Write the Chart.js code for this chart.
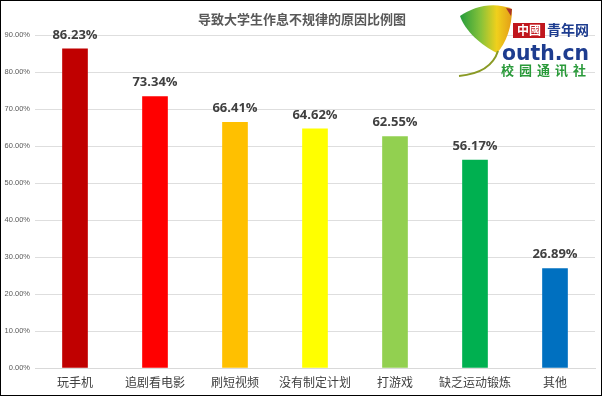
<!DOCTYPE html>
<html lang="zh">
<head>
  <meta charset="UTF-8" />
  <title>导致大学生作息不规律的原因比例图</title>
  <script src="https://cdn.jsdelivr.net/npm/chart.js"></script>
  <style>
    body { margin: 0; background: #fff; }
    .frame {
      width: 602px;
      height: 396px;
      box-sizing: border-box;
      border: 1px solid #000;
      position: relative;
    }
    canvas { display: block; }
  </style>
</head>
<body>
  <div class="frame">
    <canvas id="chart" width="600" height="394"></canvas>
  </div>

<script>
  const chartTitle = "导致大学生作息不规律的原因比例图";
  const categories = ["玩手机", "追剧看电影", "刷短视频", "没有制定计划", "打游戏", "缺乏运动锻炼", "其他"];
  const percents = [86.23, 73.34, 66.41, 64.62, 62.55, 56.17, 26.89];
  const barColors = ["#C00000", "#FF0000", "#FFC000", "#FFFF00", "#92D050", "#00B050", "#0070C0"];
  const yTicks = [0, 10, 20, 30, 40, 50, 60, 70, 80, 90];

  const cjk = "'Noto Sans CJK SC', 'Microsoft YaHei', sans-serif";

  // title, value labels and the youth.cn logo
  const decor = {
    id: 'decor',
    afterDatasetsDraw(chart) {
      const ctx = chart.ctx;
      const meta = chart.getDatasetMeta(0);
      ctx.save();
      ctx.fillStyle = '#404040';
      ctx.font = "bold 13px 'Open Sans', 'Noto Sans', sans-serif";
      ctx.textAlign = 'center';
      ctx.textBaseline = 'middle';
      meta.data.forEach((bar, i) => {
        ctx.fillText(percents[i].toFixed(2) + '%', bar.x, bar.y - 14);
      });
      ctx.restore();
    },
    afterDraw(chart) {
      const ctx = chart.ctx;
      ctx.save();
      ctx.fillStyle = '#595959';
      ctx.font = "bold 13px " + cjk;
      ctx.textAlign = 'center';
      ctx.textBaseline = 'middle';
      ctx.fillText(chartTitle, 301, 18);

      // leaf
      const g = ctx.createLinearGradient(458, 0, 512, 0);
      g.addColorStop(0, '#1f9a3c');
      g.addColorStop(0.4, '#86c23a');
      g.addColorStop(0.7, '#f0d01c');
      g.addColorStop(1, '#e39a17');
      ctx.fillStyle = g;
      ctx.beginPath();
      ctx.moveTo(496, 52);
      ctx.bezierCurveTo(480, 44, 464, 30, 459, 15);
      ctx.bezierCurveTo(472, 6, 492, 0, 511, 8);
      ctx.bezierCurveTo(511, 26, 505, 42, 496, 52);
      ctx.fill();
      ctx.fillStyle = '#a8322a';
      ctx.beginPath();
      ctx.moveTo(505, 7);
      ctx.lineTo(511, 8);
      ctx.lineTo(510, 15);
      ctx.fill();
      ctx.strokeStyle = '#8a9a25';
      ctx.lineWidth = 2;
      ctx.beginPath();
      ctx.moveTo(497, 50);
      ctx.quadraticCurveTo(490, 72, 458, 75);
      ctx.stroke();

      // 中國 青年网
      ctx.fillStyle = '#c0161d';
      ctx.fillRect(512, 22, 32, 15);
      ctx.fillStyle = '#fff';
      ctx.font = "bold 12px " + cjk;
      ctx.textAlign = 'left';
      ctx.textBaseline = 'middle';
      ctx.fillText("中國", 516, 29.5, 26);
      ctx.fillStyle = '#1d3c8f';
      ctx.font = "bold 14px " + cjk;
      ctx.fillText("青年网", 546, 29, 43);

      ctx.textBaseline = 'alphabetic';
      ctx.font = "bold 22px 'DejaVu Sans', sans-serif";
      ctx.fillText("outh.cn", 501, 59, 87);

      ctx.fillStyle = '#2a9a3a';
      ctx.font = "bold 13px " + cjk;
      ctx.textBaseline = 'middle';
      "校园通讯社".split('').forEach((c, i) => ctx.fillText(c, 500 + i * 18, 69));
      ctx.restore();
    }
  };

  new Chart(document.getElementById('chart'), {
    type: 'bar',
    data: {
      labels: categories,
      datasets: [{
        data: percents,
        backgroundColor: barColors,
        barThickness: 25,
        categoryPercentage: 1,
        barPercentage: 1
      }]
    },
    options: {
      responsive: false,
      animation: false,
      layout: { padding: { top: 34, right: 6, bottom: 0, left: 0 } },
      plugins: {
        legend: { display: false },
        tooltip: { enabled: false }
      },
      scales: {
        x: {
          grid: { display: false, drawTicks: false },
          border: { color: '#d9d9d9' },
          ticks: {
            color: '#404040',
            font: { size: 12, family: cjk },
            padding: 7
          },
          afterFit(scale) { scale.height = 27; }
        },
        y: {
          min: 0,
          max: 90,
          afterBuildTicks(scale) { scale.ticks = yTicks.map(v => ({ value: v })); },
          grid: { color: '#dedede', drawTicks: false },
          border: { display: false },
          ticks: {
            color: '#595959',
            font: { size: 7.5, family: "'Liberation Sans', Arial, sans-serif" },
            padding: 5,
            callback: v => v.toFixed(2) + '%'
          },
          afterFit(scale) { scale.width = 34; }
        }
      }
    },
    plugins: [decor]
  });
</script>
</body>
</html>
